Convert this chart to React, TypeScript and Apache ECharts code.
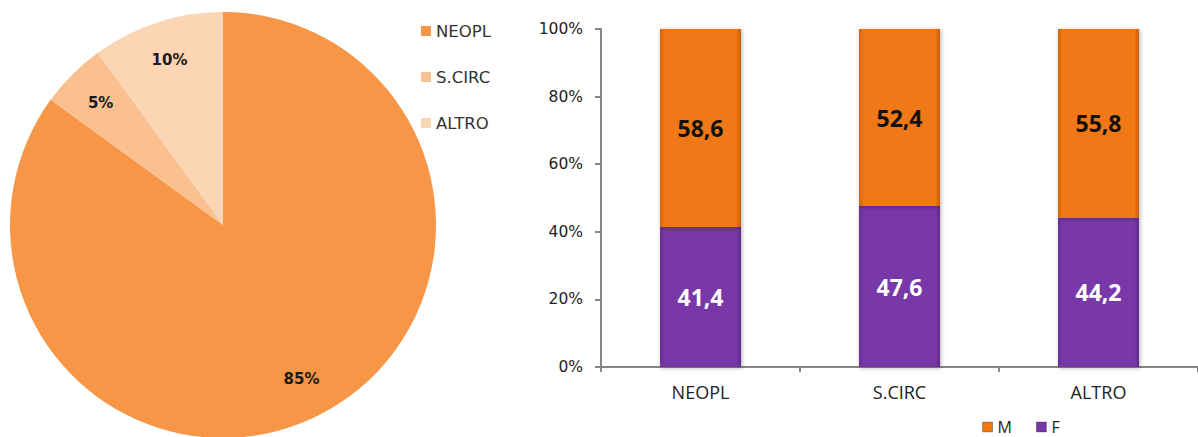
import React, { useEffect, useRef } from "react";
import * as echarts from "echarts";

const pieNames = ["NEOPL", "S.CIRC", "ALTRO"];
const pieValues = [85, 5, 10];
const pieColors = ["#F79646", "#FAC090", "#FCD5B5"];

const barCategories = ["NEOPL", "S.CIRC", "ALTRO"];
const femaleValues = [41.4, 47.6, 44.2];
const maleValues = [58.6, 52.4, 55.8];
const yTicks = [0, 20, 40, 60, 80, 100];

const fmtComma = (v: number) => v.toFixed(1).replace(".", ",");

export default function App() {
  const ref = useRef<HTMLDivElement>(null);
  useEffect(() => {
    const chart = echarts.init(ref.current!, null, { renderer: "svg" });
    const pieData = pieNames.map((n, i) => ({
      name: n,
      value: pieValues[i],
      itemStyle: { color: pieColors[i] },
    }));
    chart.setOption({
      animation: false,
      backgroundColor: "#ffffff",
      legend: [
        {
          data: pieNames,
          orient: "vertical",
          left: 421,
          top: 22,
          padding: 0,
          icon: "rect",
          itemWidth: 10,
          itemHeight: 10,
          itemGap: 28,
          textStyle: { fontFamily: "DejaVu Sans", fontSize: 16.5, color: "#333", lineHeight: 18 },
        },
        {
          data: ["M", "F"],
          orient: "horizontal",
          left: 982,
          top: 419,
          padding: 0,
          icon: "rect",
          itemWidth: 10,
          itemHeight: 10,
          itemGap: 24,
          itemStyle: { borderColor: "rgba(0,0,0,0.25)", borderWidth: 1 },
          textStyle: { fontFamily: "Open Sans", fontSize: 16, color: "#222", lineHeight: 16 },
        },
      ],
      grid: { left: 601, top: 29, height: 338, width: 606, containLabel: false },
      xAxis: {
        type: "category",
        data: barCategories,
        axisLine: { show: true, lineStyle: { color: "#868686", width: 2 } },
        axisTick: { show: true, length: 5, lineStyle: { color: "#868686", width: 2 } },
        axisLabel: { fontFamily: "Open Sans", fontSize: 18, color: "#222", margin: 16 },
      },
      yAxis: {
        type: "value",
        min: 0,
        max: 100,
        interval: 20,
        axisLine: { show: true, lineStyle: { color: "#868686", width: 2 } },
        axisTick: { show: true, length: 6, inside: false, lineStyle: { color: "#868686", width: 2 } },
        splitLine: { show: false },
        axisLabel: {
          fontFamily: "DejaVu Sans",
          fontSize: 15.5,
          color: "#222",
          margin: 18,
          formatter: (v: number) => (yTicks.includes(v) ? v + "%" : ""),
        },
      },
      series: [
        {
          type: "pie",
          name: "main",
          center: [223, 225],
          radius: [0, 213],
          startAngle: 90,
          clockwise: true,
          label: { show: false },
          labelLine: { show: false },
          data: pieData,
        },
        {
          type: "pie",
          name: "labels",
          center: [223, 225],
          radius: [127, 213],
          startAngle: 90,
          clockwise: true,
          silent: true,
          itemStyle: { color: "rgba(0,0,0,0)", borderWidth: 0 },
          emphasis: { disabled: true },
          label: {
            show: true,
            position: "inside",
            formatter: "{d}%",
            fontFamily: "DejaVu Sans",
            fontWeight: "bold",
            fontSize: 15,
            color: "#1a1a1a",
          },
          labelLine: { show: false },
          data: pieNames.map((n, i) => ({ name: n, value: pieValues[i] })),
        },
        {
          type: "bar",
          name: "F",
          stack: "tot",
          barWidth: 81,
          data: femaleValues,
          itemStyle: {
            color: {
              type: "linear", x: 0, y: 0, x2: 1, y2: 0,
              colorStops: [
                { offset: 0, color: "#6A2E98" },
                { offset: 0.06, color: "#7838A8" },
                { offset: 0.94, color: "#7838A8" },
                { offset: 1, color: "#632B8E" },
              ],
            },
            shadowBlur: 4,
            shadowColor: "rgba(0,0,0,0.3)",
            shadowOffsetX: 1,
            shadowOffsetY: 1,
          },
          label: {
            show: true,
            position: "inside",
            formatter: (p: any) => fmtComma(p.value),
            fontFamily: "Open Sans",
            fontWeight: "bold",
            fontSize: 23,
            color: "#ffffff",
          },
        },
        {
          type: "bar",
          name: "M",
          stack: "tot",
          barWidth: 81,
          data: maleValues,
          itemStyle: {
            color: {
              type: "linear", x: 0, y: 0, x2: 1, y2: 0,
              colorStops: [
                { offset: 0, color: "#D8650A" },
                { offset: 0.06, color: "#F07812" },
                { offset: 0.94, color: "#F07812" },
                { offset: 1, color: "#C85E08" },
              ],
            },
            shadowBlur: 4,
            shadowColor: "rgba(0,0,0,0.3)",
            shadowOffsetX: 1,
            shadowOffsetY: 1,
          },
          label: {
            show: true,
            position: "inside",
            formatter: (p: any) => fmtComma(p.value),
            fontFamily: "Open Sans",
            fontWeight: "bold",
            fontSize: 23,
            color: "#111111",
          },
        },
      ],
    });
    return () => chart.dispose();
  }, []);
  return (
    <div
      ref={ref}
      style={{ position: "fixed", left: 0, top: 0, width: 1198, height: 437, background: "#fff" }}
    />
  );
}
